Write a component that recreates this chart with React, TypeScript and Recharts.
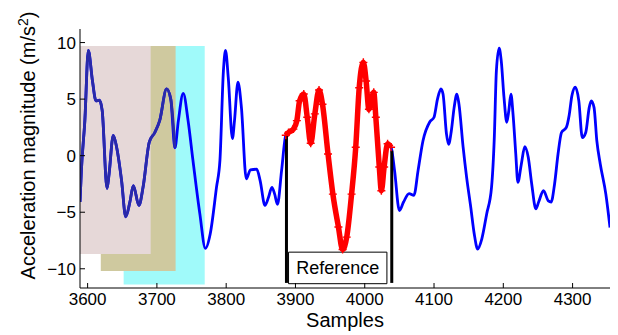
import React from "react";
import {
  ComposedChart,
  Line,
  XAxis,
  YAxis,
  ReferenceArea,
  ReferenceLine,
  Label,
} from "recharts";

// acceleration trace
const samples = [
  3589, 3591, 3596, 3601, 3607, 3612, 3617, 3621, 3628, 3631, 3637, 3642, 3649, 3655, 3661, 3666,
  3674, 3680, 3689, 3697, 3704, 3714, 3720, 3726, 3731, 3738, 3745, 3752, 3762, 3770, 3777, 3786,
  3791, 3796, 3799, 3803, 3809, 3812, 3817, 3822, 3829, 3835, 3844, 3849, 3856, 3861, 3866, 3870,
  3874, 3880, 3886, 3890, 3897, 3902, 3906, 3912, 3917, 3922, 3928, 3934, 3939, 3947, 3954, 3962,
  3968, 3974, 3981, 3987, 3992, 3998, 4002, 4006, 4013, 4016, 4021, 4024, 4028, 4033, 4038, 4043,
  4050, 4056, 4064, 4071, 4077, 4084, 4094, 4100, 4105, 4110, 4113, 4118, 4121, 4125, 4129, 4133,
  4136, 4142, 4147, 4153, 4158, 4163, 4169, 4176, 4183, 4187, 4190, 4194, 4197, 4201, 4205, 4208,
  4211, 4214, 4218, 4221, 4226, 4231, 4236, 4241, 4247, 4251, 4258, 4265, 4269, 4274, 4279, 4284,
  4291, 4295, 4299, 4304, 4309, 4314, 4319, 4324, 4327, 4331, 4335, 4340, 4348, 4354,
];
const accel = [
  -4.1, -1.3, 3.1, 9.3, 6.6, 4.85, 4.9, 4.0, -2.9, -1.6, 1.8, 0.7, -2.2, -5.4, -4.1, -2.65,
  -4.4, -2.8, 1.2, 2.05, 3.1, 5.9, 5.0, 0.7, 3.1, 5.5, 3.1, -0.4, -5.15, -8.2, -6.9, -2.8,
  -0.4, 7.5, 9.3, 6.9, 1.5, 3.1, 6.5, 4.25, -2.05, -1.25, -1.2, -2.2, -4.4, -3.7, -2.8, -3.4,
  -4.3, -1.3, 1.8, 2.05, 2.35, 3.1, 4.85, 5.45, 3.4, 1.1, 3.7, 5.8, 4.55, 0.15, -3.4, -6.3,
  -8.3, -7.2, -3.4, 0.75, 6.0, 8.25, 6.6, 4.1, 5.6, 3.4, -1.0, -3.1, -1.0, 1.05, 0.75, -1.3,
  -4.85, -4.1, -3.35, -3.5, -1.3, 1.3, 3.0, 3.4, 5.0, 5.9, 5.45, 1.9, 1.0, 2.2, 4.25, 5.45,
  4.55, 0.75, -1.9, -4.55, -6.9, -8.25, -7.35, -5.15, -2.8, 1.6, 7.5, 9.5, 8.4, 5.15, 2.95, 4.0,
  5.45, 3.7, 0.15, -2.35, -0.75, 0.8, -0.15, -2.5, -4.7, -4.1, -3.1, -4.0, -4.1, -2.5, 0.15, 2.05,
  2.5, 3.55, 5.3, 6.05, 4.85, 1.6, 2.05, 4.25, 4.85, 4.25, 1.3, -0.75, -3.4, -6.35,
];

// reference window (red part)
const refStart = 3886;
const refEnd = 4038;
const refBoxX = [3890, 4032];
const refBoxY = [-11.32, -8.53];
const refLineBottom = -11.25;

// shaded windows, drawn back to front
const winStart = [3652, 3619, 3589];
const winEnd = [3769, 3727, 3691];
const winTop = [9.7, 9.7, 9.7];
const winBottom = [-11.4, -10.2, -8.7];
const winColors = ["#a0fafa", "#cfc99f", "#e6d8d8"];
const shadedUntil = 3726;

const xTicks = [3600, 3700, 3800, 3900, 4000, 4100, 4200, 4300];
const yTicks = [-10, -5, 0, 5, 10];

const data = samples.map((s, i) => ({ s, v: accel[i] }));
const shadedData = data.filter((d) => d.s <= shadedUntil);
const refData = data.filter((d) => d.s >= refStart && d.s <= refEnd);
const refFirst = refData[0];
const refLast = refData[refData.length - 1];

const fmt = (v: number) => String(v).replace("-", "\u2212");

const RedCross = (props: any) => {
  const { cx, cy, index } = props;
  if (cx == null || cy == null) return <g key={index} />;
  return (
    <path
      key={index}
      d={`M${cx - 4},${cy}H${cx + 4}M${cx},${cy - 4}V${cy + 4}`}
      stroke="#ff0000"
      strokeWidth={1.4}
    />
  );
};

const YLabel = (props: any) => {
  const vb = props.viewBox || { x: 0, y: 29, width: 80, height: 259 };
  const cx = 35;
  const cy = vb.y + vb.height / 2 - 13;
  return (
    <text
      transform={`translate(${cx},${cy}) rotate(-90)`}
      textAnchor="middle"
      fontSize={20}
      fill="#000"
    >
      Acceleration magnitude (m/s
      <tspan dy={-7} fontSize={14}>2</tspan>
      <tspan dy={7}>)</tspan>
    </text>
  );
};

export default function App() {
  const tickStyle = { fill: "#000", fontSize: 17 };
  return (
    <div
      style={{
        position: "absolute",
        left: 0,
        top: 0,
        width: 618,
        height: 335,
        background: "#fff",
        fontFamily: "'Liberation Sans', Arial, Helvetica, sans-serif",
      }}
    >
      <ComposedChart width={618} height={335} margin={{ top: 29, right: 8, bottom: 0, left: 0 }}>
        <XAxis
          dataKey="s"
          type="number"
          domain={[3589, 4354]}
          ticks={xTicks}
          allowDataOverflow
          height={47}
          stroke="#000"
          tick={tickStyle}
          tickSize={-5}
          tickMargin={10}
          label={{ value: "Samples", position: "insideBottom", offset: 8, fill: "#000", fontSize: 20 }}
        />
        <XAxis
          xAxisId="t"
          orientation="top"
          dataKey="s"
          type="number"
          domain={[3589, 4354]}
          ticks={xTicks}
          allowDataOverflow
          height={0}
          stroke="#000"
          tick={false}
          tickSize={-5}
        />
        <YAxis
          type="number"
          domain={[-11.7, 11.2]}
          ticks={yTicks}
          allowDataOverflow
          width={80}
          stroke="#000"
          tick={tickStyle}
          tickSize={-5}
          tickMargin={9}
          tickFormatter={fmt}
          label={<Label content={YLabel} />}
        />
        <YAxis
          yAxisId="r"
          orientation="right"
          type="number"
          domain={[-11.7, 11.2]}
          ticks={yTicks}
          allowDataOverflow
          width={0}
          stroke="#000"
          tick={false}
          tickSize={-5}
        />
        {winStart.map((x1, i) => (
          <ReferenceArea
            key={i}
            x1={x1}
            x2={winEnd[i]}
            y1={winBottom[i]}
            y2={winTop[i]}
            fill={winColors[i]}
            fillOpacity={1}
            stroke="none"
            ifOverflow="hidden"
          />
        ))}
        <Line
          data={data}
          dataKey="v"
          type="monotone"
          stroke="#0000ff"
          strokeWidth={2.8}
          dot={false}
          isAnimationActive={false}
        />
        <Line
          data={shadedData}
          dataKey="v"
          type="monotone"
          stroke="#2a2aa8"
          strokeWidth={2.8}
          dot={false}
          isAnimationActive={false}
        />
        <Line
          data={refData}
          dataKey="v"
          type="monotone"
          stroke="#ff0000"
          strokeWidth={5.5}
          dot={RedCross}
          isAnimationActive={false}
        />
        <ReferenceLine
          segment={[
            { x: refFirst.s + 1, y: refFirst.v },
            { x: refFirst.s + 1, y: refLineBottom },
          ]}
          stroke="#000"
          strokeWidth={3}
        />
        <ReferenceLine
          segment={[
            { x: refLast.s + 1, y: refLast.v - 0.3 },
            { x: refLast.s + 1, y: refLineBottom },
          ]}
          stroke="#000"
          strokeWidth={3}
        />
        <ReferenceArea
          x1={refBoxX[0]}
          x2={refBoxX[1]}
          y1={refBoxY[0]}
          y2={refBoxY[1]}
          fill="#fff"
          fillOpacity={1}
          stroke="#000"
          strokeWidth={1}
          label={{ value: "Reference", position: "center", fill: "#000", fontSize: 18 }}
        />
      </ComposedChart>
    </div>
  );
}
